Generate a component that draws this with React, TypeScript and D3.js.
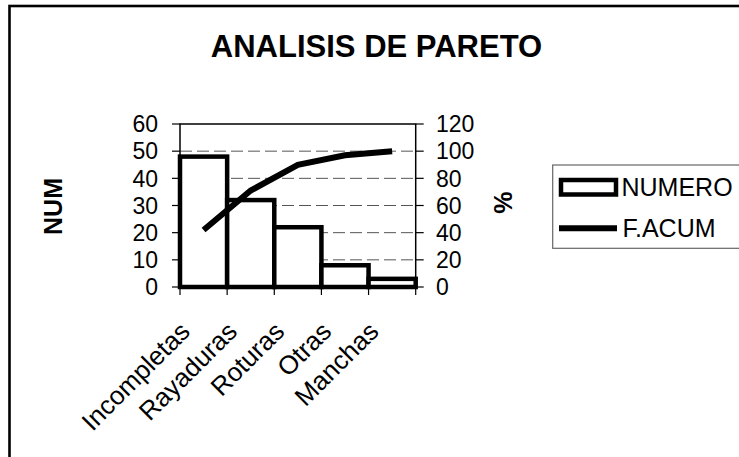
import React from "react";
import * as d3 from "d3";

const categories = ["Incompletas", "Rayaduras", "Roturas", "Otras", "Manchas"];
const numero = [48, 32, 22, 8, 3];
const facum = [42, 71, 90, 97, 100];
const leftTicks = [0, 10, 20, 30, 40, 50, 60];
const rightTicks = [0, 20, 40, 60, 80, 100, 120];
const gridTicks = [10, 20, 30, 40, 50];
const title = "ANALISIS DE PARETO";
const leftTitle = "NUM";
const rightTitle = "%";
const seriesNames = ["NUMERO", "F.ACUM"];

const W = 739;
const H = 457;
const plot = { left: 180, right: 415.7, top: 124, bottom: 287 };
const FONT = "'Liberation Sans', Arial, sans-serif";

export default function App() {
  const x = d3.scaleBand<string>().domain(categories).range([plot.left, plot.right]).padding(0);
  const yL = d3.scaleLinear().domain([0, 60]).range([plot.bottom, plot.top]);
  const yR = d3.scaleLinear().domain([0, 120]).range([plot.bottom, plot.top]);
  const bw = x.bandwidth();
  const line = d3
    .line<number>()
    .x((_, i) => (x(categories[i]) as number) + bw / 2)
    .y((d) => yR(d));
  const boundaries = categories.map((c) => x(c) as number).concat([plot.right]);

  return (
    <svg
      width={W}
      height={H}
      style={{ position: "absolute", left: 0, top: 0, background: "#fff" }}
      fontFamily={FONT}
    >
      <rect x={0} y={0} width={W} height={H} fill="#fff" />
      <rect x={9.5} y={6} width={W + 50} height={H + 50} fill="none" stroke="#000" strokeWidth={2.6} />
      <text x={376.5} y={57} textAnchor="middle" fontSize={31} fontWeight="bold">
        {title}
      </text>

      {/* gridlines */}
      {gridTicks.map((t) => (
        <line
          key={"g" + t}
          x1={plot.left}
          x2={plot.right}
          y1={yL(t)}
          y2={yL(t)}
          stroke="#555"
          strokeWidth={1}
          strokeDasharray="12,5"
        />
      ))}
      {/* plot border */}
      <rect
        x={plot.left}
        y={plot.top}
        width={plot.right - plot.left}
        height={plot.bottom - plot.top}
        fill="none"
        stroke="#000"
        strokeWidth={1.5}
      />

      {/* bars */}
      {numero.map((v, i) => (
        <rect
          key={"b" + i}
          x={x(categories[i]) as number}
          y={yL(v)}
          width={bw}
          height={plot.bottom - yL(v)}
          fill="#fff"
          stroke="#000"
          strokeWidth={4.5}
        />
      ))}

      {/* line */}
      <path d={line(facum) as string} fill="none" stroke="#000" strokeWidth={6} strokeLinejoin="miter" />

      {/* left axis */}
      {leftTicks.map((t) => (
        <g key={"l" + t}>
          <line x1={plot.left - 8} x2={plot.left} y1={yL(t)} y2={yL(t)} stroke="#000" strokeWidth={1.2} />
          <text x={158} y={yL(t)} dy="0.36em" textAnchor="end" fontSize={23}>
            {t}
          </text>
        </g>
      ))}
      {/* right axis */}
      {rightTicks.map((t) => (
        <g key={"r" + t}>
          <line x1={plot.right} x2={plot.right + 8} y1={yR(t)} y2={yR(t)} stroke="#000" strokeWidth={1.2} />
          <text x={436} y={yR(t)} dy="0.36em" textAnchor="start" fontSize={23}>
            {t}
          </text>
        </g>
      ))}
      {/* bottom ticks */}
      {boundaries.map((b, i) => (
        <line key={"t" + i} x1={b} x2={b} y1={plot.bottom} y2={plot.bottom + 8} stroke="#000" strokeWidth={1.2} />
      ))}
      {/* category labels */}
      {categories.map((c) => {
        const px = (x(c) as number) + bw / 2 - 12;
        const py = 333;
        return (
          <text
            key={c}
            x={px}
            y={py}
            textAnchor="end"
            fontSize={26}
            transform={`rotate(-45 ${px} ${py})`}
          >
            {c}
          </text>
        );
      })}

      {/* axis titles */}
      <text
        x={52.5}
        y={206.5}
        dy="0.36em"
        textAnchor="middle"
        fontSize={25}
        fontWeight="bold"
        transform="rotate(-90 52.5 206.5)"
      >
        {leftTitle}
      </text>
      <text
        x={502.5}
        y={202.5}
        dy="0.36em"
        textAnchor="middle"
        fontSize={25}
        fontWeight="bold"
        transform="rotate(-90 502.5 202.5)"
      >
        {rightTitle}
      </text>

      {/* legend */}
      <rect x={552.7} y={165} width={250} height={83.3} fill="#fff" stroke="#666" strokeWidth={1.2} />
      <rect x={561} y={180} width={55} height={14.5} fill="#fff" stroke="#000" strokeWidth={4.5} />
      <text x={621.5} y={187.3} dy="0.36em" fontSize={25}>
        {seriesNames[0]}
      </text>
      <line x1={559} x2={617} y1={228.3} y2={228.3} stroke="#000" strokeWidth={6} />
      <text x={622.5} y={228.3} dy="0.36em" fontSize={25}>
        {seriesNames[1]}
      </text>
    </svg>
  );
}
